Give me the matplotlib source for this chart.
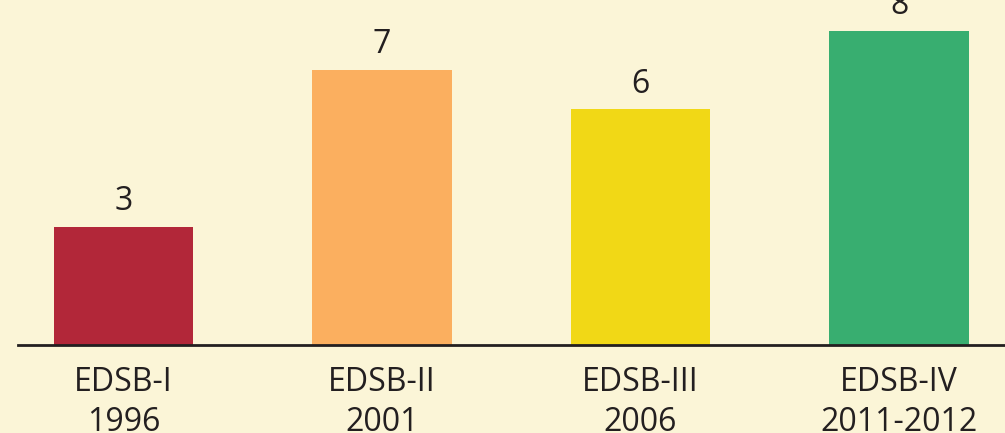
import matplotlib.pyplot as plt

surveys = ["EDSB-I\n1996", "EDSB-II\n2001", "EDSB-III\n2006", "EDSB-IV\n2011-2012"]
values = [3, 7, 6, 8]
colors = ["#B22739", "#FBAF5F", "#F1D816", "#38AE70"]

bg = "#FBF5D7"
txt = "#231F20"

fig = plt.figure(figsize=(10.05, 4.33), dpi=100)
fig.patch.set_facecolor(bg)
ax = fig.add_axes([18 / 1005, 88 / 433, 987 / 1005, 345 / 433])
ax.set_facecolor(bg)

x = range(len(values))
bars = ax.bar(x, values, width=0.538, color=colors, zorder=2)
for xi, v in zip(x, values):
    ax.text(xi, v + 0.22, str(v), ha="center", va="bottom",
            fontsize=23, color=txt, family="Open Sans", clip_on=False)

ax.set_xlim(-0.408, 3.41)
ax.set_ylim(0, 345 / 39.3)
ax.set_xticks(list(x))
ax.set_xticklabels(surveys, fontsize=23, color=txt, family="Open Sans",
                   linespacing=1.3)
ax.tick_params(axis="x", length=0, pad=15)
ax.set_yticks([])
for s in ["top", "right", "left"]:
    ax.spines[s].set_visible(False)
ax.spines["bottom"].set_color(txt)
ax.spines["bottom"].set_linewidth(2)

fig.savefig("out.png", dpi=100, facecolor=bg)
